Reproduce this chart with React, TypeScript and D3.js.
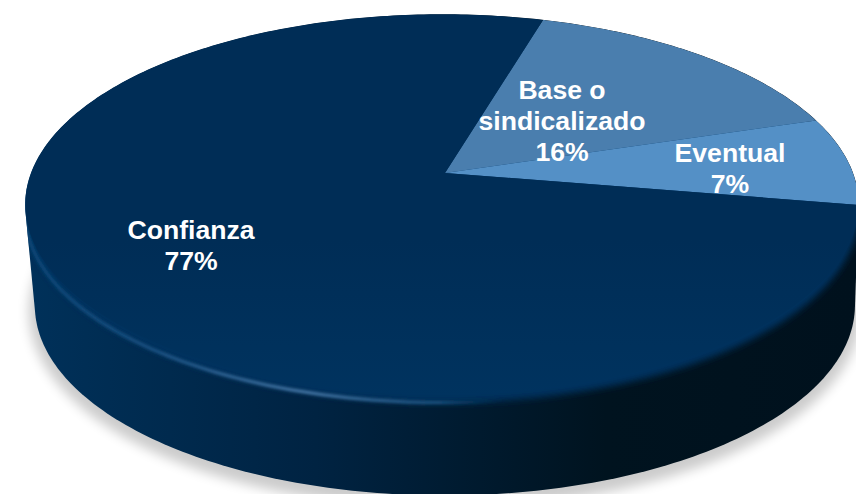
import React from "react";
import * as d3 from "d3";

const categories = ["Base o sindicalizado", "Eventual", "Confianza"];
const shares = [15.6, 7.5, 76.9];
const sliceColors = ["#4a7eae", "#5490c6", "url(#topFace)"];
const labelLines = [["Base o", "sindicalizado", "16%"], ["Eventual", "7%"], ["Confianza", "77%"]];
const labelAnchors: [number, number][] = [[562, 99], [730, 162], [191, 239]];

const W = 856, H = 494;
const apexX = 445, apexY = 173, radius = 411, rimShift = -3, tiltA = 185, tiltK = -0.165;
const depth = 101, bottomScale = 0.984;
const startDeg = 16.5;

// perspective projection of a point on the unit disc
function project(angle: number, r = 1): [number, number] {
  const u = r * Math.sin(angle), v = -r * Math.cos(angle);
  const d = 1 + tiltK * v;
  return [apexX + (radius * u + rimShift * r) / d, apexY + (tiltA * v) / d];
}
const sample = (a0: number, a1: number, n = 120) => d3.range(n + 1).map((i) => a0 + ((a1 - a0) * i) / n);
const line = d3.line<[number, number]>();

const pieGen = d3.pie<number>().sort(null).startAngle((startDeg * Math.PI) / 180).endAngle((startDeg * Math.PI) / 180 + 2 * Math.PI);
const arcs = pieGen(shares);

const rim = sample(0, 2 * Math.PI, 360).map((a) => project(a));
const floor = rim.map(([x, y]): [number, number] => [apexX + (x - apexX - rimShift) * bottomScale, y + depth]);
const hull = d3.polygonHull([...rim, ...floor]) as [number, number][];
const hullPath = line(hull) + "Z";
const rimPath = line(rim) + "Z";
const floorPath = line(floor) + "Z";

const slicePath = (a: { startAngle: number; endAngle: number }) =>
  line([[apexX, apexY], ...sample(a.startAngle, a.endAngle).map((t) => project(t))]) + "Z";

export default function App() {
  return (
    <svg width={W} height={H} viewBox={`0 0 ${W} ${H}`} style={{ position: "absolute", left: 0, top: 0, background: "#fff" }}>
      <defs>
        <linearGradient id="side" gradientUnits="userSpaceOnUse" x1={24} x2={856} y1={0} y2={0}>
          <stop offset="0" stopColor="#00315a" />
          <stop offset="0.35" stopColor="#002342" />
          <stop offset="0.7" stopColor="#00131f" />
          <stop offset="1" stopColor="#00111d" />
        </linearGradient>
        <linearGradient id="topFace" gradientUnits="userSpaceOnUse" x1={0} x2={0} y1={240} y2={400}>
          <stop offset="0" stopColor="#002d56" />
          <stop offset="1" stopColor="#00335f" />
        </linearGradient>
        <linearGradient id="bevel" gradientUnits="userSpaceOnUse" x1={24} x2={856} y1={0} y2={0}>
          <stop offset="0" stopColor="#0d4a7c" />
          <stop offset="0.15" stopColor="#1c5486" />
          <stop offset="0.34" stopColor="#4a7cac" />
          <stop offset="0.5" stopColor="#1a5180" />
          <stop offset="0.58" stopColor="#003560" stopOpacity="0" />
          <stop offset="1" stopColor="#003560" stopOpacity="0" />
        </linearGradient>
        <filter id="shadowBlur" x="-10%" y="-10%" width="120%" height="120%"><feGaussianBlur stdDeviation="6" /></filter>
        <filter id="bevelBlur" x="-10%" y="-10%" width="120%" height="120%"><feGaussianBlur stdDeviation="1.4" /></filter>
        <filter id="edgeBlur" x="-10%" y="-10%" width="120%" height="120%"><feGaussianBlur stdDeviation="3.5" /></filter>
        <clipPath id="hullClip"><path d={hullPath} /></clipPath>
      </defs>
      <path d={floorPath} fill="#000" stroke="#000" strokeWidth={12} opacity={0.2} filter="url(#shadowBlur)" transform="translate(0,6)" />
      <path d={hullPath} fill="url(#side)" />
      <g clipPath="url(#hullClip)">
        <path d={rimPath} fill="#00335f" transform="translate(0,8)" filter="url(#edgeBlur)" />
        <path d={rimPath} fill="none" stroke="url(#bevel)" strokeWidth={3} transform="translate(0,8)" filter="url(#bevelBlur)" />
        {arcs.map((a, i) => (
          <path key={categories[i]} d={slicePath(a)} fill={sliceColors[i]} />
        ))}
      </g>
      {labelLines.map((lines, i) => (
        <text key={categories[i]} textAnchor="middle" fill="#fff" fontFamily="Liberation Sans, Arial, sans-serif" fontWeight="bold" fontSize={26.6}>
          {lines.map((t, j) => (
            <tspan key={t} x={labelAnchors[i][0]} y={labelAnchors[i][1] + j * 31}>{t}</tspan>
          ))}
        </text>
      ))}
    </svg>
  );
}
